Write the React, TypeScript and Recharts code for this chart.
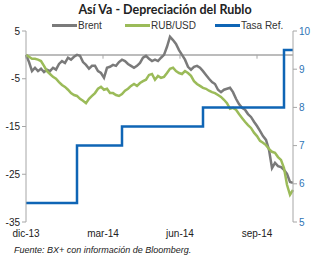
import { LineChart, Line, XAxis, YAxis, ReferenceLine } from 'recharts';

// --- data ---------------------------------------------------------------
// one sample every few trading days, dic-13 through mid oct-14

const brent = [
  0, -1.5, -3.4, -2.7, -3.4, -2.9, -3.6, -3.1, -3.4, -2.7,
  -3.1, -1.9, -1.3, -1.7, -0.6, -1.0, -0.4, 0, -0.2, -1.5,
  -2.1, -2.9, -2.3, -2.3, -3.4, -3.8, -4.8, -2.7, -2.5, -2.1,
  -2.3, -1.5, -1.0, -1.3, -1.9, -2.3, -2.7, -2.3, -1.7, -0.6,
  -0.2, -0.8, -1.3, -1.0, -1.3, -0.6, 0, 1.7, 3.8, 3.1,
  2.3, 1.0, 0, -1.0, -2.5, -3.1, -2.5, -2.3, -2.7, -3.4,
  -4.2, -5.0, -5.7, -6.1, -7.3, -7.8, -7.3, -7.1, -6.9, -7.8,
  -9.2, -10.3, -11.1, -11.5, -12.4, -13.0, -14.0, -14.9, -15.9, -17.0,
  -17.8, -19.9, -23.7, -22.6, -23.3, -23.5, -24.1, -24.9, -26.6, -26.8
];

const rubUsd = [
  0, -0.4, -0.8, -0.8, -1.0, -1.3, -2.3, -3.4, -4.0, -4.6,
  -5.0, -5.7, -6.3, -6.7, -7.3, -8.0, -8.4, -8.6, -9.2, -9.6,
  -10.1, -9.2, -8.6, -8.0, -7.1, -6.7, -7.3, -7.1, -8.0, -8.0,
  -8.4, -8.6, -8.2, -7.5, -7.1, -6.5, -6.1, -6.5, -5.9, -5.5,
  -5.2, -4.2, -4.0, -5.2, -4.4, -4.8, -4.6, -3.8, -2.9, -2.7,
  -3.4, -3.8, -4.0, -3.4, -3.8, -4.4, -5.5, -6.1, -6.5, -6.9,
  -7.1, -7.5, -7.8, -8.0, -8.4, -8.8, -9.4, -10.1, -11.3, -11.1,
  -11.5, -12.4, -13.2, -14.0, -14.7, -15.3, -16.3, -17.0, -18.0, -18.4,
  -18.9, -19.7, -20.3, -20.5, -21.4, -22.0, -23.7, -27.2, -29.3, -28.3
];

// tasa de referencia (%), eje derecho
const tasaRef = [
  5.5, 5.5, 5.5, 5.5, 5.5, 5.5, 5.5, 5.5, 5.5, 5.5,
  5.5, 5.5, 5.5, 5.5, 5.5, 5.5, 5.5, 7, 7, 7,
  7, 7, 7, 7, 7, 7, 7, 7, 7, 7,
  7, 7, 7.5, 7.5, 7.5, 7.5, 7.5, 7.5, 7.5, 7.5,
  7.5, 7.5, 7.5, 7.5, 7.5, 7.5, 7.5, 7.5, 7.5, 7.5,
  7.5, 7.5, 7.5, 7.5, 7.5, 7.5, 7.5, 7.5, 7.5, 8,
  8, 8, 8, 8, 8, 8, 8, 8, 8, 8,
  8, 8, 8, 8, 8, 8, 8, 8, 8, 8,
  8, 8, 8, 8, 8, 8, 9.5, 9.5, 9.5, 9.5
];

const monthTicks = [0, 25.67, 51.33, 77];
const monthLabels = ['dic-13', 'mar-14', 'jun-14', 'sep-14'];

const leftTicks = [5, -5, -15, -25, -35];
const rightTicks = [5, 6, 7, 8, 9, 10];

const data = brent.map((b, i) => ({
  i,
  brent: b,
  rub: rubUsd[i],
  tasa: tasaRef[i]
}));

const GREY = '#7a7a7a';
const GREEN = '#9bbb59';
const BLUE = '#0f65b5';
const AXIS = '#a6a6a6';

const legendItems = [
  { name: 'Brent', color: GREY, left: 52 },
  { name: 'RUB/USD', color: GREEN, left: 125 },
  { name: 'Tasa Ref.', color: BLUE, left: 215 }
];

export default function App() {
  return (
    <div style={{
      position: 'absolute',
      left: 0,
      top: 0,
      width: 315,
      height: 262,
      background: '#fff',
      fontFamily: '"Liberation Sans", Arial, sans-serif'
    }}>

      {/* TITLE */}
      <div style={{
        position: 'absolute',
        top: 2,
        left: 0,
        width: 330,
        textAlign: 'center',
        fontFamily: 'Lato, sans-serif',
        fontWeight: 700,
        fontSize: 12.5,
        color: '#222'
      }}>
        Así Va - Depreciación del Rublo
      </div>

      {/* LEGEND */}
      {legendItems.map((it) => (
        <div key={it.name} style={{
          position: 'absolute',
          top: 20,
          left: it.left,
          display: 'flex',
          alignItems: 'center',
          fontSize: 10,
          color: '#333'
        }}>
          <span style={{
            display: 'inline-block',
            width: 25,
            height: 3,
            background: it.color,
            marginRight: 1
          }} />
          {it.name}
        </div>
      ))}

      <LineChart
        width={315}
        height={262}
        data={data}
        margin={{ top: 31, right: 2, bottom: 18, left: 8 }}
      >
        <XAxis
          dataKey="i"
          type="number"
          domain={[0, 89]}
          ticks={monthTicks}
          tickFormatter={(v: number) => monthLabels[monthTicks.indexOf(v)] ?? ''}
          axisLine={false}
          tickLine={false}
          height={22}
          tick={{ fill: '#222', fontSize: 10 }}
        />

        <YAxis
          yAxisId="left"
          domain={[-35, 5]}
          ticks={leftTicks}
          width={18}
          stroke={AXIS}
          tickSize={4}
          tick={{ fill: '#222', fontSize: 10 }}
        />

        <YAxis
          yAxisId="right"
          orientation="right"
          domain={[5, 10]}
          ticks={rightTicks}
          width={20}
          stroke={AXIS}
          tickSize={4}
          tick={{ fill: '#2e74b5', fontSize: 10 }}
        />

        {/* zero line with the date marks hanging from it */}
        <ReferenceLine yAxisId="left" y={0} stroke={AXIS} strokeWidth={1.5} />
        {monthTicks.map((t) => (
          <ReferenceLine
            key={t}
            yAxisId="left"
            segment={[{ x: t, y: 0 }, { x: t, y: -0.8 }]}
            stroke={AXIS}
          />
        ))}

        <Line
          yAxisId="left"
          dataKey="brent"
          type="linear"
          stroke={GREY}
          strokeWidth={2.5}
          dot={false}
          isAnimationActive={false}
        />
        <Line
          yAxisId="left"
          dataKey="rub"
          type="linear"
          stroke={GREEN}
          strokeWidth={2.5}
          dot={false}
          isAnimationActive={false}
        />
        <Line
          yAxisId="right"
          dataKey="tasa"
          type="stepAfter"
          stroke={BLUE}
          strokeWidth={2.5}
          dot={false}
          isAnimationActive={false}
        />
      </LineChart>

      {/* SOURCE */}
      <div style={{
        position: 'absolute',
        top: 245,
        left: 14,
        fontSize: 9,
        fontStyle: 'italic',
        color: '#222'
      }}>
        Fuente: BX+ con información de Bloomberg.
      </div>

    </div>
  );
}
